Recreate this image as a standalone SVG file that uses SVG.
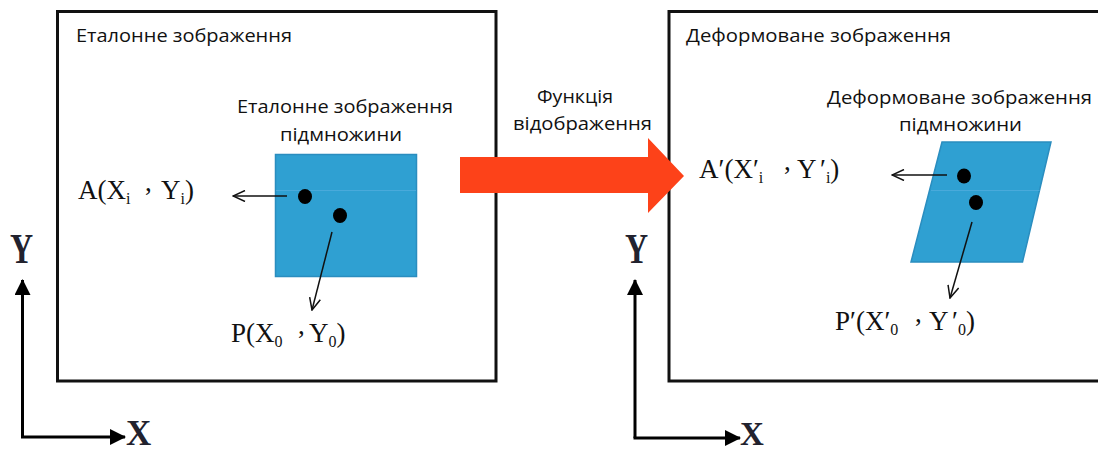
<svg xmlns="http://www.w3.org/2000/svg" width="1098" height="452" viewBox="0 0 1098 452">
<style>
.frame{fill:none;stroke:#111;stroke-width:3}
.lbl{font-family:"Open Sans","Liberation Sans",sans-serif;font-size:18px;fill:#111}
.math{font-family:"Liberation Serif","DejaVu Serif",serif;font-size:27px;fill:#111}
.sub{font-size:16px}
.axl{font-family:"Liberation Serif","DejaVu Serif",serif;font-weight:bold;fill:#22222e}
.blue{fill:#2fa0d2;stroke:#2a8dbf;stroke-width:1.5}
.seam{stroke:#49aadb;stroke-width:1}
.dot{fill:#000}
.conn{fill:none;stroke:#111;stroke-width:1.5}
.axis{fill:none;stroke:#000;stroke-width:3}
</style>
<defs>
<marker id="open" viewBox="0 0 14 12" refX="13" refY="6" markerWidth="14" markerHeight="12" markerUnits="userSpaceOnUse" orient="auto">
<path d="M1,0.5 L13,6 L1,11.5" fill="none" stroke="#111" stroke-width="1.5"/>
</marker>
<marker id="solid" viewBox="0 0 16 16" refX="15" refY="8" markerWidth="16" markerHeight="16" markerUnits="userSpaceOnUse" orient="auto">
<path d="M0,0 L16,8 L0,16 Z" fill="#000"/>
</marker>
</defs>

<g id="reference-image">
<rect class="frame" x="57.5" y="11.5" width="438.5" height="369.5"/>
<text class="lbl" x="76" y="42" textLength="216" lengthAdjust="spacingAndGlyphs">Еталонне зображення</text>
</g>

<g id="deformed-image">
<rect class="frame" x="669" y="11.5" width="440" height="369.5"/>
<text class="lbl" x="686" y="42" textLength="265" lengthAdjust="spacingAndGlyphs">Деформоване зображення</text>
</g>

<g id="reference-subset">
<rect class="blue" x="275.5" y="154.5" width="141" height="122"/>
<line class="seam" x1="276" y1="190.5" x2="416" y2="190.5"/>
<text class="lbl" x="237" y="113" textLength="216" lengthAdjust="spacingAndGlyphs">Еталонне зображення</text>
<text class="lbl" x="280" y="141" textLength="122" lengthAdjust="spacingAndGlyphs">підмножини</text>
<ellipse class="dot" cx="305" cy="196.5" rx="7" ry="7.5"/>
<ellipse class="dot" cx="340" cy="215.5" rx="7" ry="7.5"/>
</g>

<g id="deformed-subset">
<polygon class="blue" points="942,142 1051,142 1022.5,262 911,262"/>
<line class="seam" x1="931" y1="190.5" x2="1039.5" y2="190.5"/>
<text class="lbl" x="827" y="104" textLength="265" lengthAdjust="spacingAndGlyphs">Деформоване зображення</text>
<text class="lbl" x="899" y="131" textLength="123" lengthAdjust="spacingAndGlyphs">підмножини</text>
<ellipse class="dot" cx="964" cy="176" rx="7" ry="7.5"/>
<ellipse class="dot" cx="976" cy="202.5" rx="7" ry="7.5"/>
</g>

<g id="label-A">
<text class="math"><tspan x="78" y="199">A(X</tspan><tspan class="sub" dy="5">i</tspan><tspan x="145" y="191">,</tspan><tspan x="161" y="199">Y</tspan><tspan class="sub" dy="5">i</tspan><tspan dy="-5">)</tspan></text>
</g>
<g id="label-P">
<text class="math"><tspan x="231" y="342">P(X</tspan><tspan class="sub" dy="5">0</tspan><tspan x="298" y="334">,</tspan><tspan x="309" y="342">Y</tspan><tspan class="sub" dy="5">0</tspan><tspan dy="-5">)</tspan></text>
</g>
<g id="label-A-prime">
<text class="math"><tspan x="699" y="178">A′(X′</tspan><tspan class="sub" dy="5">i</tspan><tspan x="784" y="170">,</tspan><tspan x="797" y="178">Y</tspan><tspan x="820" y="178">′</tspan><tspan class="sub" dy="5">i</tspan><tspan dy="-5">)</tspan></text>
</g>
<g id="label-P-prime">
<text class="math"><tspan x="835" y="330">P′(X′</tspan><tspan class="sub" dy="5">0</tspan><tspan x="915" y="322">,</tspan><tspan x="929" y="330">Y</tspan><tspan x="952" y="330">′</tspan><tspan class="sub" dy="5">0</tspan><tspan dy="-5">)</tspan></text>
</g>

<g id="mapping-function">
<polygon points="460,157 648,157 648,138 684,176 648,213 648,193 460,193" fill="#fd4219"/>
<text class="lbl" x="537" y="103" textLength="76" lengthAdjust="spacingAndGlyphs">Функція</text>
<text class="lbl" x="513" y="130" textLength="139" lengthAdjust="spacingAndGlyphs">відображення</text>
</g>

<g id="axes-left">
<text class="axl" font-size="32" transform="translate(10,263) scale(1,1.3)">Y</text>
<text class="axl" font-size="35" x="126" y="445">X</text>
</g>
<g id="axes-right">
<text class="axl" font-size="32" transform="translate(625,263) scale(1,1.35)">Y</text>
<text class="axl" font-size="33" x="740" y="445">X</text>
</g>

<g id="connectors">
<line class="conn" x1="287" y1="196" x2="233" y2="196" marker-end="url(#open)"/>
<line class="conn" x1="332" y1="232" x2="312" y2="310" marker-end="url(#open)"/>
<line class="conn" x1="947" y1="175" x2="892" y2="175" marker-end="url(#open)"/>
<line class="conn" x1="972" y1="222" x2="950" y2="298" marker-end="url(#open)"/>
<path class="axis" d="M22.5,437 L22.5,280" marker-end="url(#solid)"/>
<path class="axis" d="M21,437 L125,437" marker-end="url(#solid)"/>
<path class="axis" d="M635,438 L635,280" marker-end="url(#solid)"/>
<path class="axis" d="M633.5,438 L740,438" marker-end="url(#solid)"/>
</g>
</svg>
